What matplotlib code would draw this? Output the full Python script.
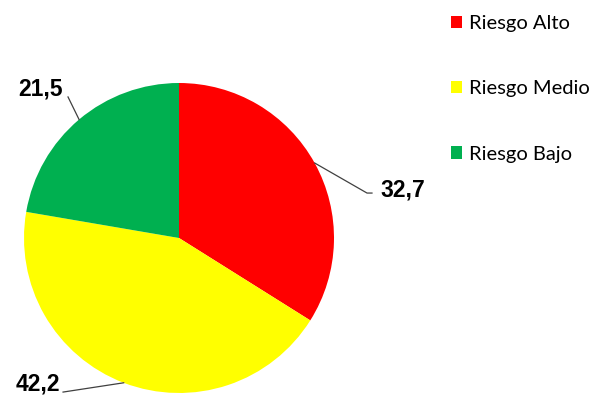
import matplotlib
matplotlib.use("Agg")
import matplotlib.pyplot as plt
import numpy as np

labels = ["Riesgo Alto", "Riesgo Medio", "Riesgo Bajo"]
values = [32.7, 42.2, 21.5]
value_text = ["32,7", "42,2", "21,5"]
colors = ["#FF0000", "#FFFF00", "#00B050"]

fig = plt.figure(figsize=(5.96, 3.95), dpi=100)
W, H = 596, 395
cx, cy, r = 179, 238, 155
ax = fig.add_axes([(cx - r) / W, (H - cy - r) / H, 2 * r / W, 2 * r / H])

wedges, _ = ax.pie(values, colors=colors, startangle=90, counterclock=False,
                   radius=1, wedgeprops=dict(linewidth=0))
ax.set_xlim(-1, 1)
ax.set_ylim(-1, 1)
ax.set_aspect("auto")
ax.axis("off")

# leader line ends and label anchors (data coords)
line_ends = [[(1.213, 0.290), (1.245, 0.290)],
             [(-0.748, -0.994)],
             [(-0.716, 0.910)]]
text_pos = [(1.297, 0.310, "left"), (-0.768, -0.945, "right"), (-0.748, 0.960, "right")]

for w, ends, (tx, ty, ha), t in zip(wedges, line_ends, text_pos, value_text):
    ang = np.deg2rad((w.theta1 + w.theta2) / 2)
    x0, y0 = np.cos(ang), np.sin(ang)
    xs = [x0] + [p[0] for p in ends]
    ys = [y0] + [p[1] for p in ends]
    ax.plot(xs, ys, color="#404040", lw=0.9, clip_on=False)
    ax.text(tx, ty, t, ha=ha, va="center", fontsize=16.5, fontweight="bold",
            family="Liberation Sans", color="black")

fig.legend(wedges, labels, loc="upper left", bbox_to_anchor=(451 / W, 1 - 15 / H),
           frameon=False, prop=dict(family="Lato", size=14.5),
           handlelength=0.55, handleheight=0.55, handletextpad=0.35,
           labelspacing=2.4, borderpad=0, borderaxespad=0)

fig.savefig("out.png", dpi=100)
